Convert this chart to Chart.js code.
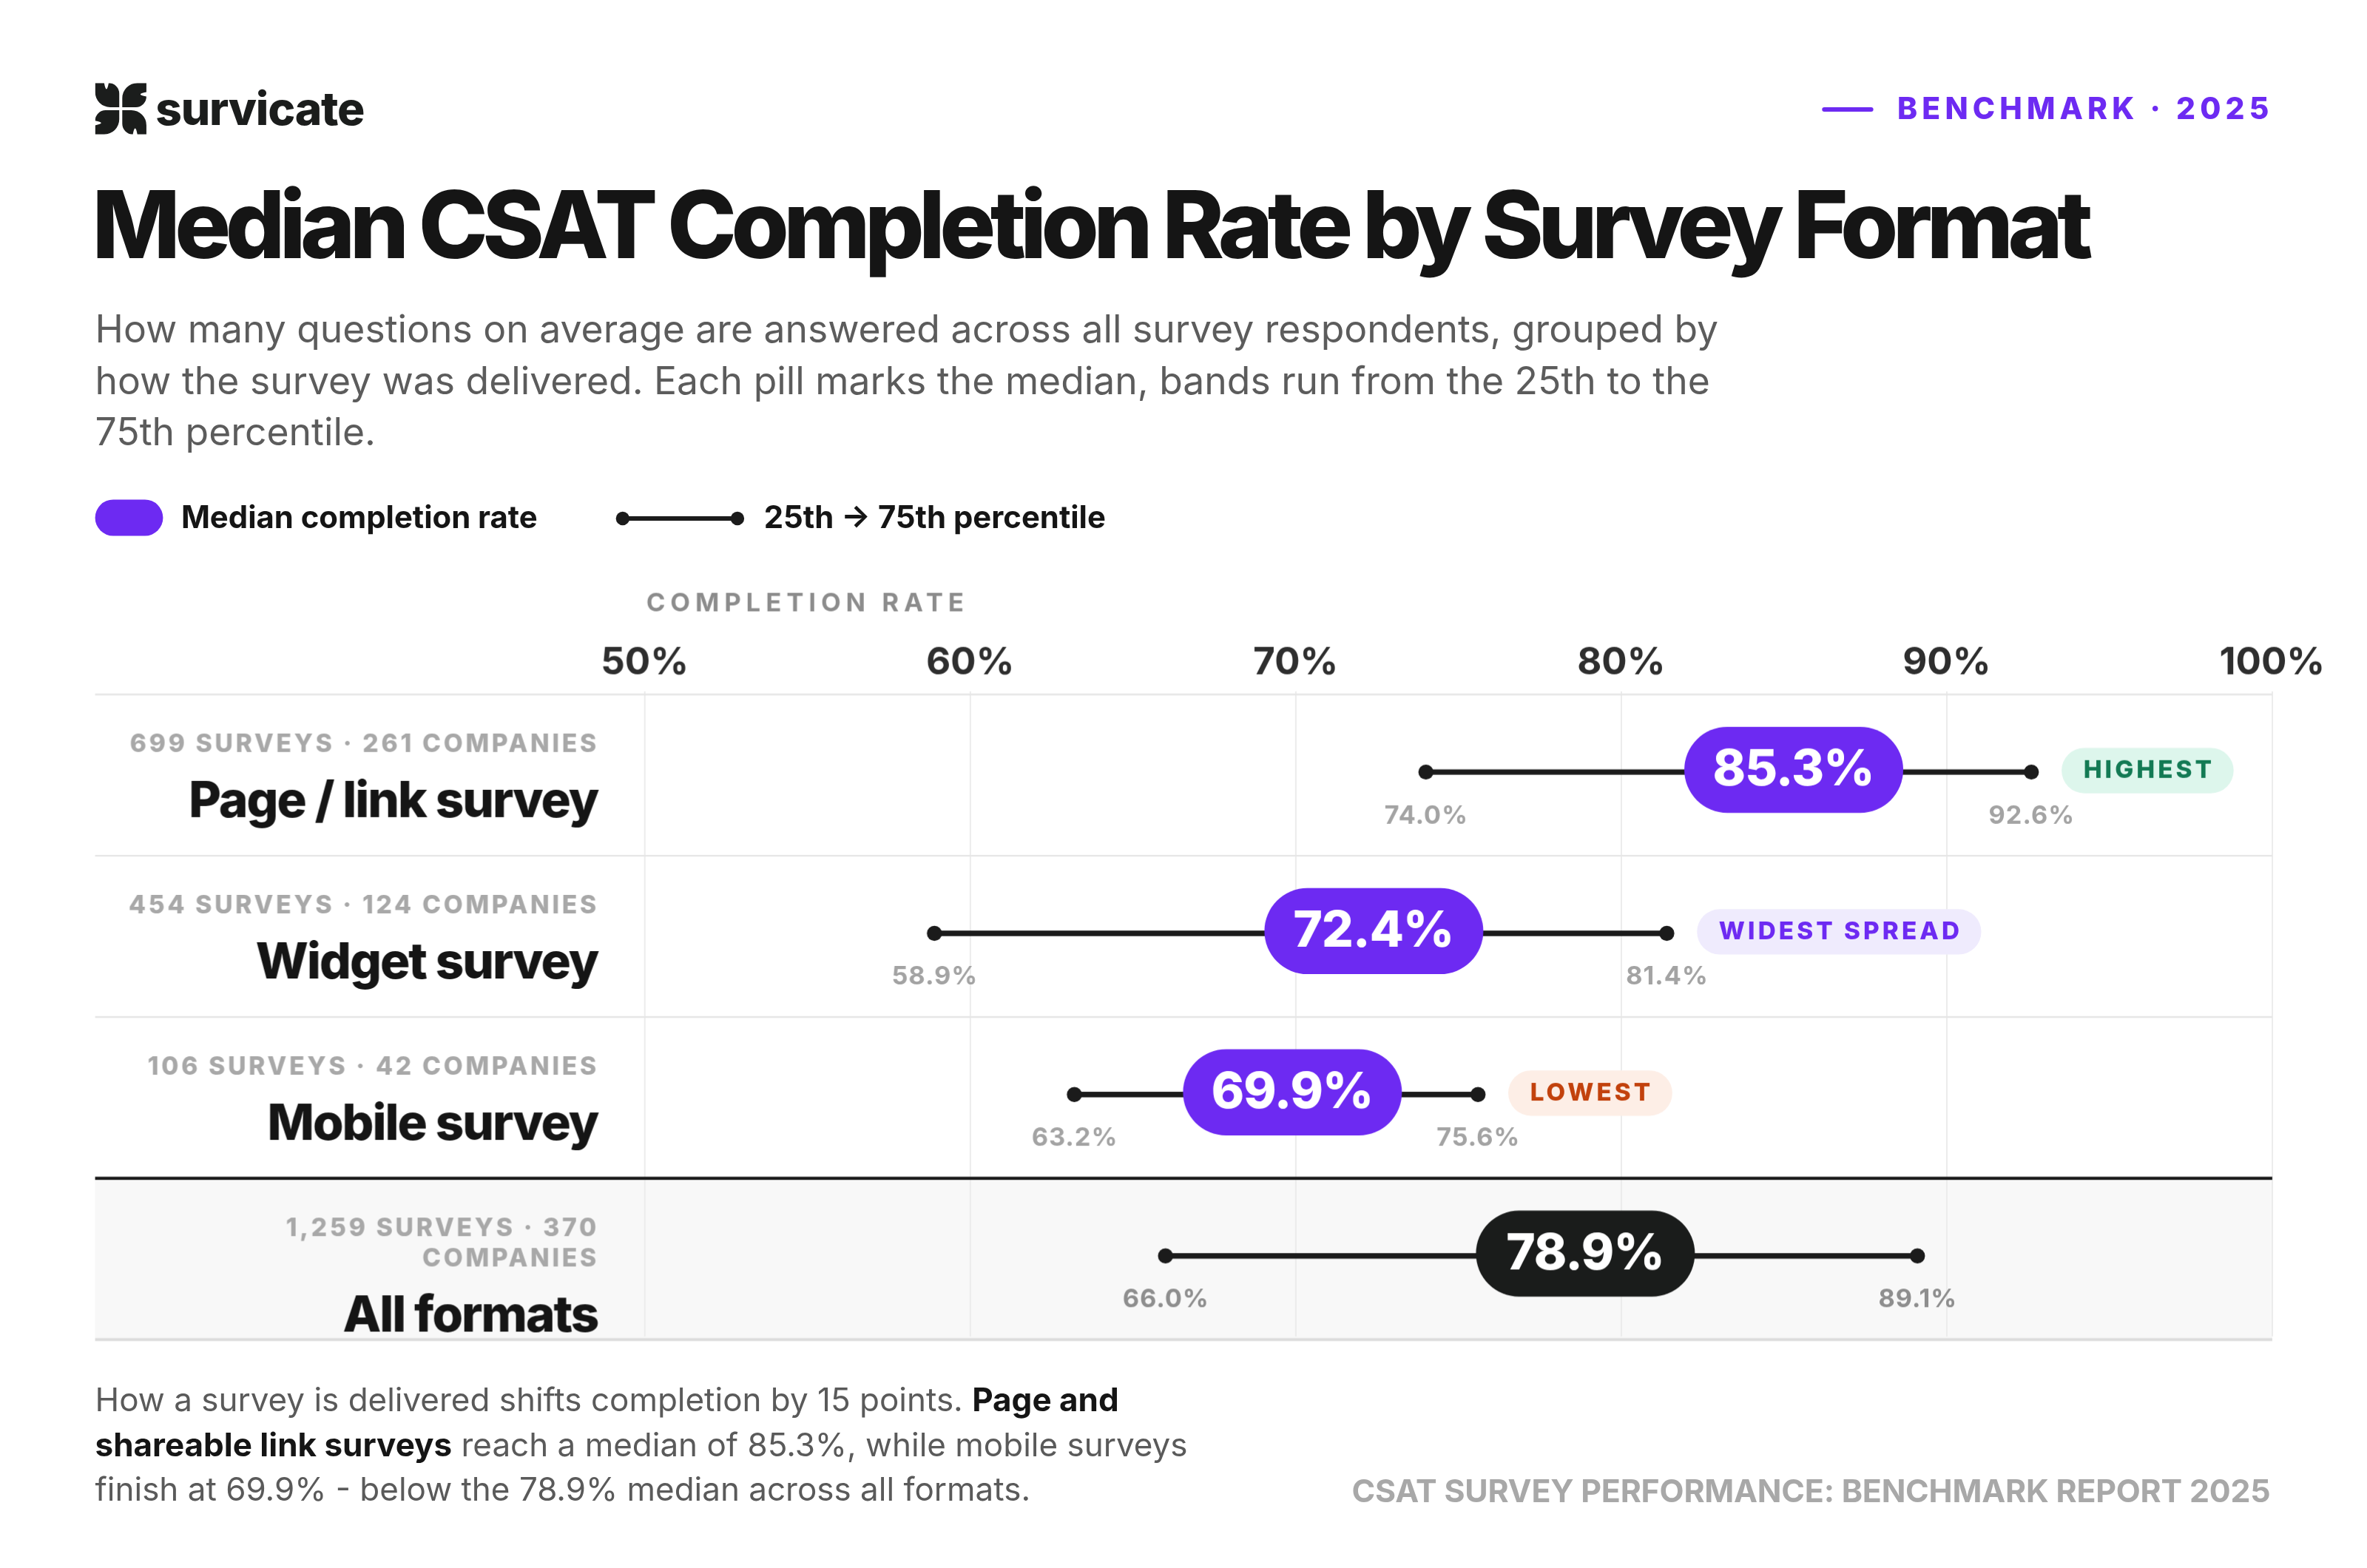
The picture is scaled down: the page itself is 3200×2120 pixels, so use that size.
<!DOCTYPE html>
<html><head><meta charset="utf-8">
<script src="https://cdn.jsdelivr.net/npm/chart.js@4.4.1/dist/chart.umd.min.js"></script>
<style>
html,body{margin:0;padding:0;background:#fff;overflow:hidden;}
body{width:3200px;height:2120px;position:relative;}
#page{position:absolute;left:0;top:0;width:1568px;height:1039px;transform-origin:0 0;transform:scale(2.040816);font-family:Inter,"Noto Sans",sans-serif;color:#151515;}
.abs{position:absolute;white-space:nowrap;}
</style></head>
<body>
<div id="page">
  <svg class="abs" style="left:63px;top:55px" width="34" height="34" viewBox="0 0 34 34">
    <g fill="#1b1d1c">
      <path id="q" d="M0,0 L6,0 Q7.5,8 9,0 A7,7 0 0 1 16,7 L16,16 L10,16 A10,10 0 0 1 0,6 Z"/>
      <use href="#q" transform="rotate(90 17 17)"/>
      <use href="#q" transform="rotate(180 17 17)"/>
      <use href="#q" transform="rotate(270 17 17)"/>
    </g>
  </svg>
  <div class="abs" style="left:103px;top:52px;line-height:40px;font-size:30.5px;font-weight:800;letter-spacing:-0.02em;color:#1b1d1c">survicate</div>
  <div class="abs" style="right:62px;top:60px;height:24px;display:flex;align-items:center;">
    <span style="display:inline-block;width:34px;height:3px;border-radius:2px;background:#6D2AF2;margin-right:16px"></span>
    <span style="font-size:20px;font-weight:800;letter-spacing:3px;color:#6D2AF2;line-height:24px">BENCHMARK · 2025</span>
  </div>

  <div class="abs" style="left:61px;top:118px;font-size:62px;line-height:1;font-weight:800;letter-spacing:-0.06em;color:#151515">Median CSAT Completion Rate by Survey Format</div>
  <div class="abs" style="left:63px;top:201px;font-size:25.3px;line-height:34px;color:#5c5c5c">How many questions on average are answered across all survey respondents, grouped by<br>how the survey was delivered. Each pill marks the median, bands run from the 25th to the<br>75th percentile.</div>

  <div class="abs" style="left:63px;top:331px;width:45px;height:24px;border-radius:12px;background:#6D2AF2"></div>
  <div class="abs" style="left:120px;top:331px;line-height:24px;font-size:20.5px;font-weight:700;color:#151515">Median completion rate</div>
  <div class="abs" style="left:412px;top:341.5px;width:76px;height:3px;background:#1b1b1b"></div>
  <div class="abs" style="left:407.5px;top:338.5px;width:9px;height:9px;border-radius:50%;background:#1b1b1b"></div>
  <div class="abs" style="left:483.5px;top:338.5px;width:9px;height:9px;border-radius:50%;background:#1b1b1b"></div>
  <div class="abs" style="left:506px;top:331px;line-height:24px;font-size:20.5px;font-weight:700;color:#151515">25th → 75th percentile</div>

  <div class="abs" style="left:63px;top:380px;width:1482px;height:512px"><canvas id="c"></canvas></div>

  <div class="abs" style="left:63px;top:913px;font-size:21.55px;line-height:29.5px;color:#5a5a5a">How a survey is delivered shifts completion by 15 points. <b style="color:#151515;font-weight:700">Page and<br>shareable link surveys</b> reach a median of 85.3%, while mobile surveys<br>finish at 69.9% - below the 78.9% median across all formats.</div>
  <div class="abs" style="right:64px;top:976px;font-size:21px;letter-spacing:-0.1px;line-height:24px;font-weight:700;color:#a8a8a8">CSAT SURVEY PERFORMANCE: BENCHMARK REPORT 2025</div>
</div>
<script>
const categories = ['Page / link survey', 'Widget survey', 'Mobile survey', 'All formats'];
const metaLabels = ['699 SURVEYS · 261 COMPANIES', '454 SURVEYS · 124 COMPANIES', '106 SURVEYS · 42 COMPANIES', '1,259 SURVEYS · 370 COMPANIES'];
const p25 = [74.0, 58.9, 63.2, 66.0];
const medians = [85.3, 72.4, 69.9, 78.9];
const p75 = [92.6, 81.4, 75.6, 89.1];
const badges = ['HIGHEST', 'WIDEST SPREAD', 'LOWEST', null];
const tickValues = [50, 60, 70, 80, 90, 100];
const tickLabels = ['50%', '60%', '70%', '80%', '90%', '100%'];
const axisTitle = 'COMPLETION RATE';

const PURPLE = '#6D2AF2', INK = '#1b1b1b';
const ROW_SHIFT = 2;
const badgeStyle = {
  'HIGHEST': {bg: '#ddf6ec', fg: '#137a54'},
  'WIDEST SPREAD': {bg: '#efebfd', fg: '#6D2AF2'},
  'LOWEST': {bg: '#fdeee6', fg: '#c2410c'}
};
const FONT = 'Inter, "Noto Sans", sans-serif';
const fmt = v => v.toFixed(1) + '%';

function rowBounds(y) {
  const n = categories.length;
  const h = (y.bottom - y.top) / n;
  return categories.map((c, i) => {
    const cy = y.getPixelForValue(i);
    return {cy, top: cy - h / 2 + ROW_SHIFT, bottom: cy + h / 2 + ROW_SHIFT};
  });
}
function txt(ctx, s, x, y, font, color, align, ls) {
  ctx.font = font; ctx.fillStyle = color; ctx.textAlign = align; ctx.textBaseline = 'middle';
  ctx.letterSpacing = (ls || 0) + 'px';
  let dx = 0;
  if (ls) { if (align === 'right') dx = ls; else if (align === 'center') dx = ls / 2; }
  ctx.fillText(s, x + dx, y);
  ctx.letterSpacing = '0px';
}
function wrapWords(ctx, s, maxW) {
  const words = s.split(' ');
  const lines = []; let cur = '';
  for (const w of words) {
    const t = cur ? cur + ' ' + w : w;
    if (cur && ctx.measureText(t).width > maxW) { lines.push(cur); cur = w; } else cur = t;
  }
  if (cur) lines.push(cur);
  return lines;
}
function rr(ctx, x, y, w, h, r) {
  ctx.beginPath(); ctx.roundRect(x, y, w, h, r); ctx.fill();
}

const rowPlugin = {
  id: 'rows',
  beforeDraw(chart) {
    const {ctx, chartArea: a, scales: {y}} = chart;
    const b = rowBounds(y);
    ctx.save();
    ctx.fillStyle = '#f8f8f8';
    ctx.fillRect(0, b[3].top, a.right, b[3].bottom - b[3].top);
    ctx.restore();
  },
  beforeDatasetsDraw(chart) {
    const {ctx, chartArea: a, scales: {y}} = chart;
    const b = rowBounds(y);
    ctx.save();
    ctx.strokeStyle = '#e6e6e6'; ctx.lineWidth = 1.2;
    [b[0].top, b[1].top, b[2].top].forEach(yy => { ctx.beginPath(); ctx.moveTo(0, yy); ctx.lineTo(a.right, yy); ctx.stroke(); });
    ctx.strokeStyle = '#dcdcdc'; ctx.lineWidth = 2;
    ctx.beginPath(); ctx.moveTo(0, b[3].bottom); ctx.lineTo(a.right, b[3].bottom); ctx.stroke();
    ctx.strokeStyle = INK; ctx.lineWidth = 2;
    ctx.beginPath(); ctx.moveTo(0, b[3].top); ctx.lineTo(a.right, b[3].top); ctx.stroke();
    ctx.restore();
  },
  afterDatasetsDraw(chart) {
    const {ctx, chartArea: a, scales: {x, y}} = chart;
    const b = rowBounds(y);
    const medMeta = chart.getDatasetMeta(3);
    const loMeta = chart.getDatasetMeta(1);
    const hiMeta = chart.getDatasetMeta(2);
    ctx.save();
    txt(ctx, axisTitle, x.left + 1, 20, '700 17px ' + FONT, '#8c8c8c', 'left', 3.4);
    const labelRight = a.left - 32;
    categories.forEach((cat, i) => {
      const cy = b[i].cy;
      const metaFont = '800 16.5px ' + FONT;
      ctx.font = metaFont; ctx.letterSpacing = '1.8px';
      const lines = wrapWords(ctx, metaLabels[i], 322);
      ctx.letterSpacing = '0px';
      let ly = cy - 18;
      lines.forEach((l, k) => { txt(ctx, l, labelRight, ly + k * 20, metaFont, '#a8a8a8', 'right', 1.8); });
      ly += (lines.length - 1) * 20;
      txt(ctx, cat, labelRight + 2, ly + 38, '800 33px ' + FONT, '#151515', 'right', -1);
      const lo = loMeta.data[i], hi = hiMeta.data[i];
      const lc = i === 3 ? '#8e8e8e' : '#a3a3a3';
      txt(ctx, fmt(p25[i]), lo.x, lo.y + 29, '700 16.8px ' + FONT, lc, 'center', 0.5);
      txt(ctx, fmt(p75[i]), hi.x, hi.y + 29, '700 16.8px ' + FONT, lc, 'center', 0.5);
      if (badges[i]) {
        const st = badgeStyle[badges[i]];
        const bf = '800 16.3px ' + FONT;
        ctx.font = bf; ctx.letterSpacing = '2px';
        const tw = ctx.measureText(badges[i]).width - 2;
        ctx.letterSpacing = '0px';
        const bw = tw + 29, bh = 30, bx = hi.x + 20, by = hi.y - 1 - bh / 2;
        ctx.fillStyle = st.bg; rr(ctx, bx, by, bw, bh, 15);
        txt(ctx, badges[i], bx + bw / 2, hi.y - 1, bf, st.fg, 'center', 2);
      }
      const m = medMeta.data[i];
      const pw = 145, ph = 57;
      ctx.fillStyle = i === 3 ? '#1a1c1b' : PURPLE;
      rr(ctx, m.x - pw / 2, m.y - 1.5 - ph / 2, pw, ph, ph / 2);
      txt(ctx, fmt(medians[i]), m.x, m.y - 1, '800 33px ' + FONT, '#ffffff', 'center', -0.5);
    });
    ctx.restore();
  }
};

new Chart(document.getElementById('c'), {
  type: 'bar',
  data: {
    labels: categories,
    datasets: [
      {type: 'bar', label: '25th → 75th percentile', data: p25.map((v, i) => [v, p75[i]]), indexAxis: 'y', backgroundColor: INK, barThickness: 3, borderSkipped: false, order: 4},
      {type: 'line', label: '25th percentile', data: p25, indexAxis: 'y', showLine: false, pointRadius: 5, pointBackgroundColor: INK, pointBorderWidth: 0, order: 3},
      {type: 'line', label: '75th percentile', data: p75, indexAxis: 'y', showLine: false, pointRadius: 5, pointBackgroundColor: INK, pointBorderWidth: 0, order: 2},
      {type: 'line', label: 'Median completion rate', data: medians, indexAxis: 'y', showLine: false, pointRadius: 0, order: 1}
    ]
  },
  options: {
    indexAxis: 'y',
    responsive: true, maintainAspectRatio: false, animation: false,
    devicePixelRatio: 3200 / 1568,
    events: [],
    layout: {padding: {left: 364, right: 40, top: 0, bottom: 7}},
    plugins: {legend: {display: false}, tooltip: {enabled: false}},
    scales: {
      x: {
        type: 'linear', position: 'top', min: 50, max: 100,
        afterBuildTicks: s => { s.ticks = tickValues.map(v => ({value: v})); },
        afterFit: s => { s.height = 78; },
        ticks: {callback: v => tickLabels[tickValues.indexOf(v)], font: {family: FONT, size: 25, weight: '700'}, color: '#2e2e2e', padding: 4, maxRotation: 0, autoSkip: false},
        grid: {color: '#ececec', lineWidth: 1, drawTicks: false},
        border: {display: false}
      },
      y: {type: 'category', display: false, offset: true}
    }
  },
  plugins: [rowPlugin]
});
</script>
</body></html>
